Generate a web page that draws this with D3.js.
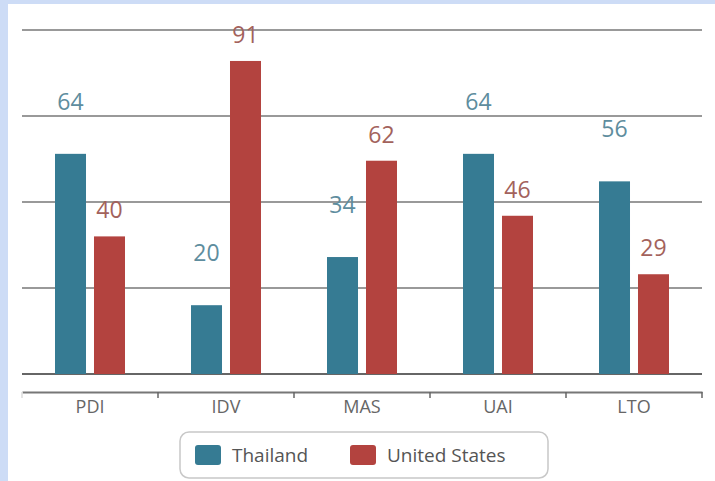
<!DOCTYPE html>
<html>
<head>
<meta charset="utf-8">
<script src="https://cdn.jsdelivr.net/npm/d3@7"></script>
<style>
  body { margin:0; background:#cddcf6; }
  svg { display:block; }
</style>
</head>
<body>
<div id="chart"></div>
<script>
// data
var categories = ["PDI", "IDV", "MAS", "UAI", "LTO"];
var seriesNames = ["Thailand", "United States"];
var thailand = [64, 20, 34, 64, 56];
var unitedStates = [40, 91, 62, 46, 29];
var gridValues = [0, 25, 50, 75, 100];

var colors = ["#367b93", "#b3433f"];
var labelColors = ["#5e8d9e", "#a3625c"];
var labelLift = [44, 18]; // value labels sit higher above the Thailand bars

var W = 715, H = 481;
var svg = d3.select("#chart").append("svg").attr("width", W).attr("height", H);

// white panel inside the blue frame
svg.append("rect").attr("x", 8).attr("y", 4).attr("width", W - 8).attr("height", H - 4).attr("fill", "#fff");

var x0 = d3.scaleBand().domain(categories).range([22, 702]);
var x1 = d3.scaleBand().domain(seriesNames).range([33, 103]).paddingInner(0.205);
var y = d3.scaleLinear().domain([0, 100]).range([374, 30]);

// grid lines
svg.append("g").selectAll("line")
  .data(gridValues)
  .enter()
  .append("line")
  .attr("x1", 22).attr("x2", 702)
  .attr("y1", d => y(d)).attr("y2", d => y(d))
  .attr("stroke", d => d == 0 ? "#666" : "#999")
  .attr("stroke-width", 2);

var rows = categories.map((c, i) => ({ cat: c, vals: [thailand[i], unitedStates[i]] }));

var groups = svg.append("g").selectAll("g")
  .data(rows)
  .enter()
  .append("g")
  .attr("transform", d => "translate(" + x0(d.cat) + ",0)");

groups.selectAll("rect")
  .data(d => d.vals.map((v, j) => ({ s: j, v: v })))
  .enter()
  .append("rect")
  .attr("x", d => x1(seriesNames[d.s]))
  .attr("y", d => y(d.v))
  .attr("width", x1.bandwidth())
  .attr("height", d => y(0) - y(d.v))
  .attr("fill", d => colors[d.s]);

groups.selectAll("text")
  .data(d => d.vals.map((v, j) => ({ s: j, v: v })))
  .enter()
  .append("text")
  .attr("x", d => x1(seriesNames[d.s]) + x1.bandwidth() / 2)
  .attr("y", d => y(d.v) - labelLift[d.s])
  .attr("text-anchor", "middle")
  .attr("font-family", "Open Sans")
  .attr("font-size", 23)
  .attr("fill", d => labelColors[d.s])
  .text(d => d.v);

// category axis, a little under the baseline
var xAxis = d3.axisBottom(x0).tickSize(0).tickPadding(8);
var axisG = svg.append("g").attr("transform", "translate(0,392)").call(xAxis);
axisG.select(".domain").attr("stroke", "#777").attr("stroke-width", 2);
axisG.selectAll("text")
  .attr("font-family", "Open Sans")
  .attr("font-size", 18)
  .attr("fill", "#666");

var edges = categories.map(c => x0(c)).concat([x0.range()[1]]);
axisG.selectAll("line.edge")
  .data(edges)
  .enter()
  .append("line")
  .attr("class", "edge")
  .attr("x1", d => d).attr("x2", d => d)
  .attr("y1", 0).attr("y2", 6)
  .attr("stroke", d => d == 22 ? "#ddd" : "#666")
  .attr("stroke-width", 1.5);

// legend
var legend = svg.append("g");
legend.append("rect")
  .attr("x", 180).attr("y", 432).attr("width", 368).attr("height", 46).attr("rx", 9)
  .attr("fill", "#fff").attr("stroke", "#c8c8c8").attr("stroke-width", 1.5);

var legendX = d3.scalePoint().domain(seriesNames).range([195, 350]);
var items = legend.selectAll("g.item")
  .data(seriesNames)
  .enter()
  .append("g")
  .attr("class", "item")
  .attr("transform", d => "translate(" + legendX(d) + ",445)");

items.append("rect")
  .attr("width", 26).attr("height", 20).attr("rx", 3)
  .attr("fill", (d, i) => colors[i]);

items.append("text")
  .attr("x", 37).attr("y", 17)
  .attr("font-family", "Open Sans")
  .attr("font-size", 19)
  .attr("fill", "#555")
  .text(d => d);
</script>
</body>
</html>
